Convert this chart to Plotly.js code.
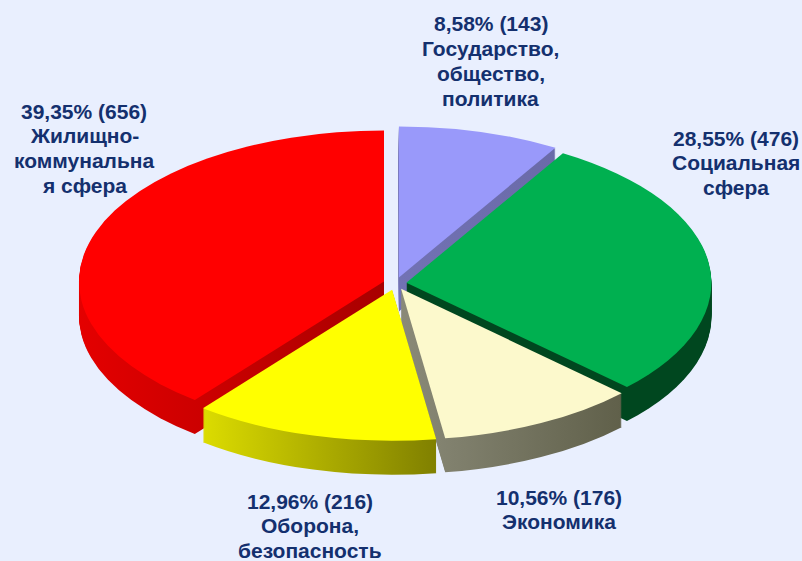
<!DOCTYPE html>
<html><head><meta charset="utf-8">
<script src="https://cdn.plot.ly/plotly-3.0.1.min.js"></script>
<style>html,body{margin:0;padding:0;background:#e9effe;overflow:hidden}</style>
</head><body><div id="chart" style="width:802px;height:561px"></div>
<script>
const categories = ["Государство, общество, политика","Социальная сфера","Экономика","Оборона, безопасность","Жилищно-коммунальная сфера"];
const counts = [143,476,176,216,656];
const percents = ["8,58%","28,55%","10,56%","12,96%","39,35%"];
const pulls = [0.042,0.036,0.04,0.043,0.04];
const topColors = ["#9999fa","#00b050","#fcf9cc","#ffff00","#ff0000"];
const wallStart = ["#7272b4","#00471f","#8a8a78","#dcdc00","#e40000"];
const wallEnd = ["#6a6aa8","#00471f","#60604a","#808000","#a80000"];
const nameLines = [["Государство,","общество,","политика"],["Социальная","сфера"],["Экономика"],["Оборона,","безопасность"],["Жилищно-","коммунальна","я сфера"]];
const labelX = [490.5,735.5,559,310,84];
const labelY = [24,138,497,501,111];
const DEPTH = 34, LINE = 24.7, FONT = 21;

const traces = [];
for (let d = DEPTH; d >= 0; d--) {
  traces.push({type:"pie",labels:categories,values:counts,sort:false,direction:"clockwise",rotation:0,
    pull:pulls,textinfo:"none",hoverinfo:"skip",showlegend:false,
    marker:{colors:topColors,line:{width:0}},domain:{x:[0,1],y:[0,1]}});
}
const annotations = [];
categories.forEach((c,i)=>{
  [`${percents[i]} (${counts[i]})`].concat(nameLines[i]).forEach((t,j)=>{
    annotations.push({text:"<b>"+t+"</b>",xref:"paper",yref:"paper",x:labelX[i]/802,y:1-(labelY[i]+j*LINE)/561,
      xanchor:"center",yanchor:"middle",showarrow:false,borderpad:0,
      font:{family:"Liberation Sans, Arial, sans-serif",size:FONT,color:"#14306e"}});
  });
});
const layout = {width:802,height:561,margin:{l:0,r:0,t:0,b:0},paper_bgcolor:"#e9effe",annotations};
Plotly.newPlot("chart",traces,layout,{displayModeBar:false,staticPlot:true}).then(gd=>{
  const svg = gd.querySelector(".main-svg");
  const NS = "http://www.w3.org/2000/svg";
  const defs = document.createElementNS(NS,"defs");
  topColors.forEach((_,i)=>{
    const g = document.createElementNS(NS,"linearGradient");
    g.setAttribute("id","wall"+i);
    [[0,wallStart[i]],[1,wallEnd[i]]].forEach(([o,c])=>{
      const s = document.createElementNS(NS,"stop");
      s.setAttribute("offset",o); s.setAttribute("stop-color",c); g.appendChild(s);
    });
    defs.appendChild(g);
  });
  svg.insertBefore(defs,svg.firstChild);
  const pie = gd.querySelector(".pielayer");
  const r = 280.5/(1+Math.max(...pulls));
  const sx = 305/r, sy = 151/r;
  pie.setAttribute("transform",`translate(395.5,283.5) scale(${sx},${sy}) translate(-401,-280.5)`);
  pie.querySelectorAll("g.trace").forEach((t,k)=>{
    const d = DEPTH-k;
    t.setAttribute("transform",`translate(0,${d/sy})`);
    if (d>0) t.querySelectorAll("g.slice path.surface").forEach((p,i)=>{ p.style.fill=`url(#wall${i})`; p.style.stroke="none"; });
  });
});
</script></body></html>
